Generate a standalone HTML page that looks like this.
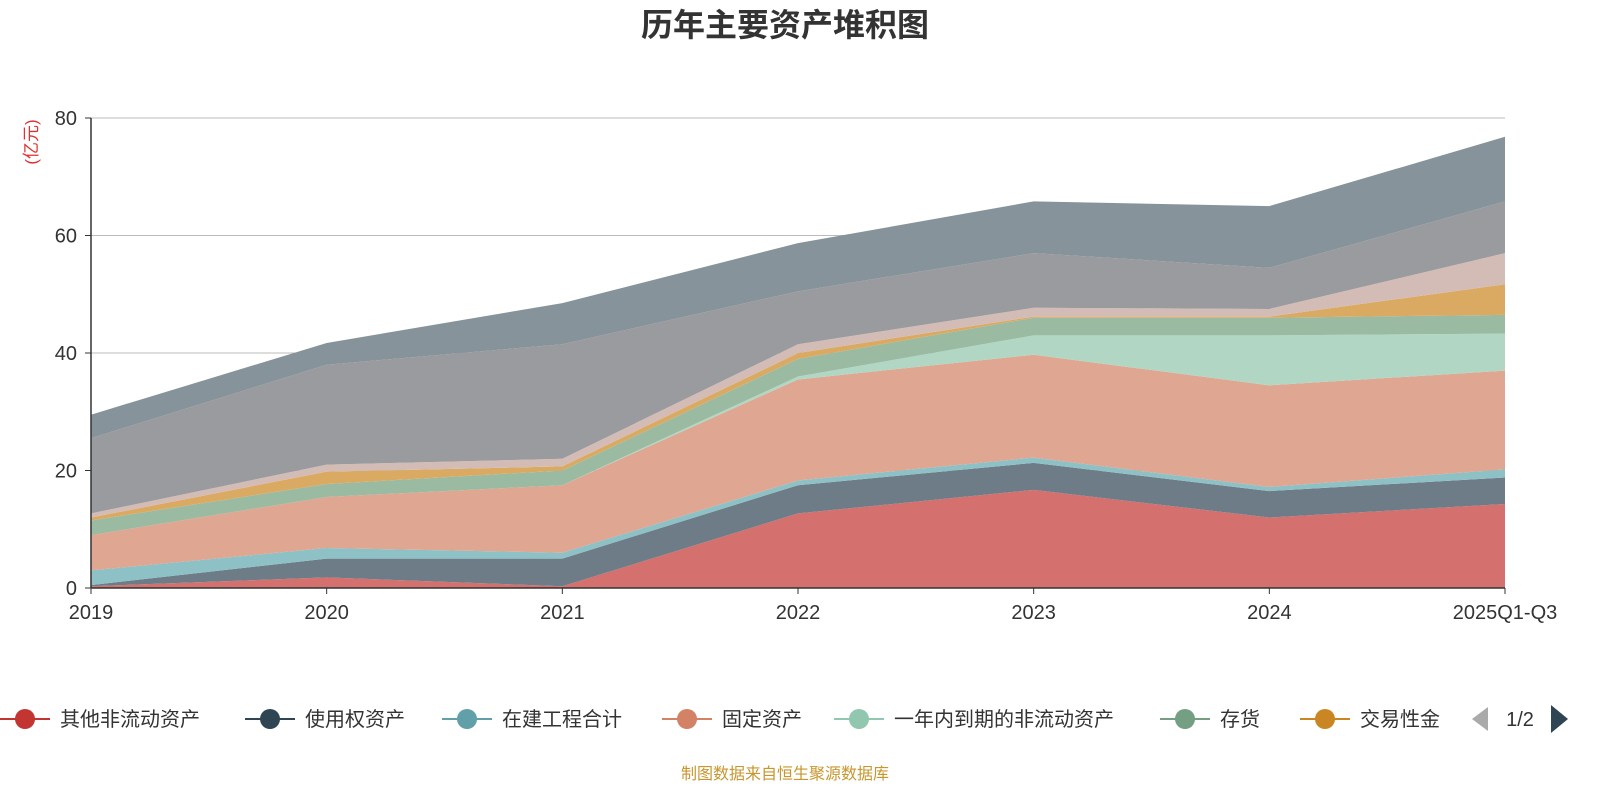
<!DOCTYPE html>
<html><head><meta charset="utf-8">
<style>
body{margin:0;background:#fff;width:1600px;height:800px;overflow:hidden;font-family:"Liberation Sans","Noto Sans CJK SC",sans-serif;}
</style></head>
<body>
<svg id="chart" width="1600" height="800" xmlns="http://www.w3.org/2000/svg">
<text x="785" y="36" text-anchor="middle" font-size="32" font-weight="bold" fill="#333" font-family="Liberation Sans, Noto Sans CJK SC, sans-serif">历年主要资产堆积图</text>
<text transform="translate(37,142) rotate(-90)" text-anchor="middle" font-size="17" fill="#e03030" font-family="Liberation Sans, Noto Sans CJK SC, sans-serif">(亿元)</text>
<g id="grid"></g><g id="areas"></g><g id="axes"></g><g id="legend"></g>
<text x="785" y="779" text-anchor="middle" font-size="16" fill="#c8962d" font-family="Liberation Sans, Noto Sans CJK SC, sans-serif">制图数据来自恒生聚源数据库</text>
</svg>
<script>
const categories=["2019","2020","2021","2022","2023","2024","2025Q1-Q3"];
const yTicks=[0,20,40,60,80];
const seriesNames=["其他非流动资产","使用权资产","在建工程合计","固定资产","一年内到期的非流动资产","存货","交易性金","应收账款","货币资金","其他"];
const sOther=[0.3,1.8,0.3,12.7,16.7,12,14.3];
const sRou=[0.2,3.2,4.7,4.8,4.6,4.5,4.5];
const sCip=[2.5,1.8,1.0,0.8,0.9,0.7,1.4];
const sFixed=[6,8.7,11.5,17.2,17.5,17.3,16.8];
const sCurrent=[0,0,0,0.5,3.3,8.5,6.3];
const sInv=[2.5,2.2,2.5,3,3,3,3.2];
const sTrade=[0.5,2.1,0.7,1,0.2,0.2,5.2];
const sRecv=[0.7,1.2,1.3,1.5,1.5,1.3,5.3];
const sCash=[12.8,17,19.5,9,9.3,7,8.8];
const sTop=[4,3.7,7,8.2,8.8,10.5,11];
const seriesData=[sOther,sRou,sCip,sFixed,sCurrent,sInv,sTrade,sRecv,sCash,sTop];
const fills=["#d4706e","#6e7c87","#8dc1c6","#dfa692","#b1d7c4","#9bbaa2","#dbaa62","#d4bcb6","#9a9b9e","#87939a"];
const legendColors=["#c23531","#2f4554","#61a0a8","#d48265","#91c7ae","#749f83","#ca8622"];
const NS="http://www.w3.org/2000/svg";
const X0=91,X1=1505,Y0=588,Y1=118,YMAX=80;
const xs=i=>X0+(X1-X0)*i/(categories.length-1);
const ys=v=>Y0-(Y0-Y1)*v/YMAX;
function mk(tag,attrs,parent){const e=document.createElementNS(NS,tag);for(const k in attrs)e.setAttribute(k,attrs[k]);parent.appendChild(e);return e;}
const grid=document.getElementById('grid'),areas=document.getElementById('areas'),axes=document.getElementById('axes'),legend=document.getElementById('legend');
yTicks.forEach(t=>{
 if(t>0){const l=mk('line',{x1:X0,x2:X1,y1:ys(t),y2:ys(t),stroke:'#bbb','stroke-width':1},grid);
 
 }
 mk('line',{x1:X0-6,x2:X0,y1:ys(t),y2:ys(t),stroke:'#333'},axes);
 const tx=mk('text',{x:X0-14,y:ys(t)+7,'text-anchor':'end','font-size':20,fill:'#333'},axes);tx.textContent=t;
 
 
});
let base=categories.map(()=>0);
seriesData.forEach((s,k)=>{
 const top=base.map((b,i)=>b+s[i]);
 let d='M'+categories.map((c,i)=>xs(i)+','+ys(top[i])).join('L');
 for(let i=categories.length-1;i>=0;i--)d+='L'+xs(i)+','+ys(base[i]);
 d+='Z';
 const p=mk('path',{d:d,fill:fills[k],stroke:'none'},areas);
 
 
 base=top;
});
mk('line',{x1:X0,x2:X0,y1:Y1,y2:Y0,stroke:'#333','stroke-width':1.5},axes);
mk('line',{x1:X0,x2:X1,y1:Y0,y2:Y0,stroke:'#333','stroke-width':1.5},axes);
categories.forEach((c,i)=>{
 mk('line',{x1:xs(i),x2:xs(i),y1:Y0,y2:Y0+6,stroke:'#333'},axes);
 const tx=mk('text',{x:xs(i),y:Y0+31,'text-anchor':'middle','font-size':20,fill:'#333'},axes);tx.textContent=c;
 
 
});
const lx=[0,245,442,662,834,1160,1300];
seriesNames.slice(0,7).forEach((n,k)=>{
 const g=mk('g',{},legend);
 
 
 const x=lx[k];
 mk('line',{x1:x,x2:x+50,y1:719,y2:719,stroke:legendColors[k],'stroke-width':2},g);
 mk('circle',{cx:x+25,cy:719,r:10,fill:legendColors[k]},g);
 const t=mk('text',{x:x+60,y:726,'font-size':20,fill:'#333'},g);t.textContent=n;
});
const prev=mk('path',{d:'M1488,707 L1472,719 L1488,731Z',fill:'#aaa'},legend);


const pg=mk('text',{x:1520,y:726,'text-anchor':'middle','font-size':20,fill:'#333'},legend);pg.textContent='1/2';


const next=mk('path',{d:'M1551,705 L1568,719 L1551,733Z',fill:'#2f4554'},legend);


</script>
</body></html>
